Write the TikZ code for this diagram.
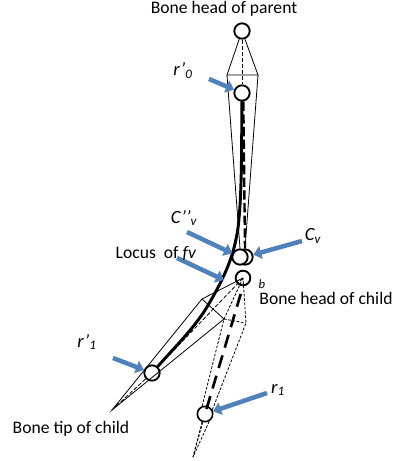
\documentclass[tikz,border=0pt]{standalone}
\usepackage{fontspec}
\setmainfont{Carlito}
\usetikzlibrary{arrows.meta}
\definecolor{arrowblue}{HTML}{4F81BD}
\tikzset{
  joint/.style={draw,circle,fill=white,line width=1.4pt,minimum size=11.5pt,inner sep=0pt},
  caption/.style={font=\fontsize{13.2}{15}\selectfont,inner sep=0pt},
  symb/.style={font=\fontsize{14}{16}\selectfont\itshape,inner sep=0pt},
  pointer/.style={arrowblue,line width=3.4pt,-{Triangle[length=6pt,width=9.5pt]}},
  bone/.style={line width=0.6pt},
  hiddenline/.style={line width=0.6pt,dash pattern=on 2pt off 1.2pt},
  centreline/.style={line width=0.6pt,dash pattern=on 3pt off 1.5pt},
  locus/.style={line width=2.2pt,line cap=round},
  axisline/.style={line width=1.8pt,dash pattern=on 7pt off 2.5pt},
  childaxis/.style={line width=2pt,dash pattern=on 10pt off 6pt,dash phase=10pt}
}
\begin{document}
\begin{tikzpicture}[x=0.75pt,y=-0.75pt]
\useasboundingbox (0,0) rectangle (398,461);
% Joints
\node[joint] (head) at (242,31) {};
\node[joint] (rzero) at (242,93) {};
\node[joint] (cv) at (245,257) {};
\node[joint] (cvv) at (240,257) {};
\node[joint,minimum size=11pt] (b) at (243,278) {};
\node[joint] (rone) at (152,373) {};
\node[joint,line width=1.2pt] (rtwo) at (205,414) {};
% Corners of the envelopes
\coordinate (pl) at (227,75);
\coordinate (pr) at (258,75);
\coordinate (cl) at (202,299);
\coordinate (cr) at (224,319);
\coordinate (dr) at (246,323);
\coordinate (tipa) at (112,410);
\coordinate (tipb) at (193,457);
% Parent envelope
\draw[bone] (head) -- (pl) -- (pr) -- (head);
\draw[bone] (pl) -- (cvv.north);
\draw[bone] (pr) -- (cv.north);
\draw[centreline] (head) -- (rzero);
% Child envelope
\draw[bone] (b.center) -- (cl) -- (tipa) -- (cr) -- (cl);
\draw[centreline] (b.center) -- (rone);
\draw[centreline] (rone) -- (tipa);
% Rotated child envelope
\draw[hiddenline] (b.center) -- (cr) -- (rtwo.110);
\draw[hiddenline] (rtwo.250) -- (tipb) -- (rtwo.300);
\draw[hiddenline] (rtwo.30) -- (dr) -- (b.center);
\draw[hiddenline] (cr) -- (dr);
\draw[hiddenline] (rtwo) -- (tipb);
% Bone axes
\draw[axisline] ([xshift=1pt]rzero.south) -- (cv.north);
\draw[childaxis] (b.south) -- (rtwo.center);
\draw[locus] (rzero) .. controls (241.5,150) and (242,195) .. (238,228)
  .. controls (234,255) and (226,275) .. (207,307)
  .. controls (195,327) and (175,347) .. (rone);
% Pointers
\coordinate (fromrzero) at (209,79);
\coordinate (fromcvv) at (187,232);
\coordinate (fromlocus) at (177,258);
\coordinate (fromcv) at (302,241);
\coordinate (fromrone) at (113,358);
\coordinate (fromrtwo) at (267,393);
\coordinate (locuspt) at (224,280);
\draw[pointer] (fromrzero) -- (rzero);
\draw[pointer] (fromcvv) -- (cvv);
\draw[pointer] (fromlocus) -- (locuspt);
\draw[pointer] (fromcv) -- (cv);
\draw[pointer] (fromrone) -- (rone);
\draw[pointer] (fromrtwo) -- (rtwo);
% Labels
\node[caption] (lhead) at (224,9) {Bone head of parent};
\node[symb] (lrzero) at (183,71) {r’\textsubscript{0}};
\node[symb] (lcvv) at (184,218) {C’’\textsubscript{v}};
\node[symb] (lcv) at (313,236) {C\textsubscript{v}};
\node[caption] (llocus) at (156,253) {Locus\ \ of \textit{fv}};
\node[symb,font=\fontsize{9.5}{10}\selectfont\itshape] (lb) at (262,284) {b};
\node[caption] (lchild) at (326,298) {Bone head of child};
\node[symb] (lrone) at (87,342) {r’\textsubscript{1}};
\node[symb] (lrtwo) at (278,390) {r\textsubscript{1}};
\node[caption] (ltip) at (71,429) {Bone tip of child};
\end{tikzpicture}
\end{document}
